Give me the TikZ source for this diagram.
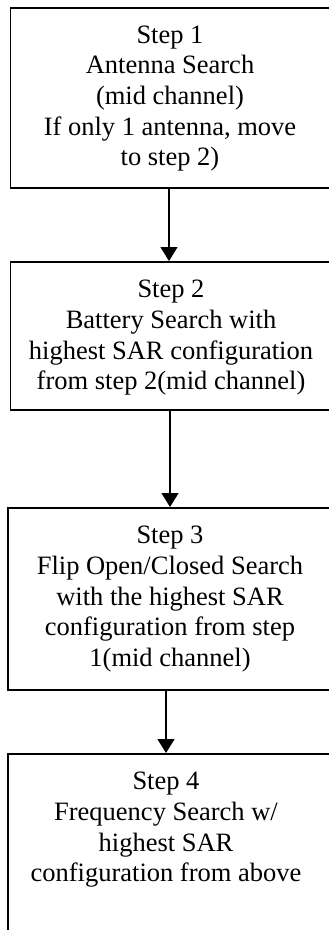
\documentclass[tikz,border=0pt]{standalone}
\usepackage{fontspec}
\setmainfont{Liberation Serif}
\usetikzlibrary{arrows.meta}
\tikzset{
  stepbox/.style={draw=black, line width=1.8pt, rectangle, inner sep=0pt, anchor=north west},
  steptext/.style={align=center, inner sep=0pt, anchor=north,
    font=\fontsize{26.5}{30.7}\selectfont},
  flow/.style={line width=1.4pt, -{Triangle[width=17pt,length=14pt]}},
}
\begin{document}
\begin{tikzpicture}[x=1pt,y=1pt]
  \useasboundingbox (0,0) rectangle (329,-930);
  \clip (0,0) rectangle (329,-930);

  % boxes (right edges run past the page edge)
  \node[stepbox, minimum width=324pt, minimum height=180pt] (b1) at (9.5,-7) {};
  \node[stepbox, minimum width=324pt, minimum height=148pt] (b2) at (9.5,-261) {};
  \node[stepbox, minimum width=326pt, minimum height=182pt] (b3) at (7,-507) {};
  \node[stepbox, minimum width=326pt, minimum height=200pt] (b4) at (7,-753) {};

  % box texts
  \node[steptext] (t1) at (170,-21.5) {\strut Step 1\\Antenna Search\\(mid channel)\\If only 1 antenna, move\\to step 2)};
  \node[steptext] (t2) at (171,-276) {\strut Step 2\\Battery Search with\\highest SAR configuration\\from step 2(mid channel)};
  \node[steptext] (t3) at (170,-522) {\strut Step 3\\Flip Open/Closed Search\\with the highest SAR\\configuration from step\\1(mid channel)};
  \node[steptext] (t4) at (166,-768) {\strut Step 4\\Frequency Search w/\\highest SAR\\configuration from above};

  % connector columns
  \coordinate (c1) at (169,0);
  \coordinate (c2) at (170,0);
  \coordinate (c3) at (166,0);

  \draw[flow] (b1.south -| c1) -- (b2.north -| c1);
  \draw[flow] (b2.south -| c2) -- (b3.north -| c2);
  \draw[flow] (b3.south -| c3) -- (b4.north -| c3);
\end{tikzpicture}
\end{document}
